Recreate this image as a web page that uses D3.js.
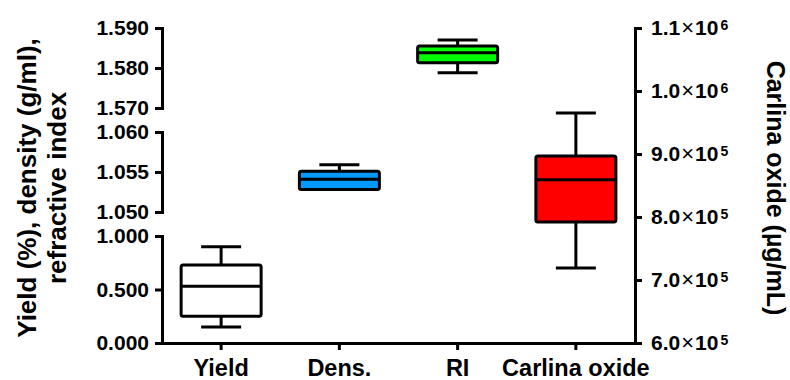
<!DOCTYPE html>
<html lang="en">
  <head>
    <meta charset="utf-8">
    <title>Carlina oil box plot</title>
    <script type="text/javascript" src="https://cdn.jsdelivr.net/npm/d3@7"></script>
    <style type="text/css">
      body { margin: 0; background: #fff; }
      svg { font-family: "Liberation Sans", Arial, sans-serif; }
      .axis path, .axis line { stroke: #000; stroke-width: 3px; }
      .axis text { font-size: 21px; font-weight: bold; fill: #000; }
    </style>
  </head>
  <body>
    <script type="text/javascript">

      //Categories and box values [min, q1, median, q3, max]
      var categories = ["Yield", "Dens.", "RI", "Carlina oxide"];
      var yieldBox = [0.15, 0.25, 0.53, 0.73, 0.90];
      var densBox = [1.0528, 1.0528, 1.0541, 1.0551, 1.0559];
      var riBox = [1.5788, 1.5813, 1.5838, 1.5855, 1.5870];
      var carlinaBox = [719000, 792000, 859000, 897000, 965000];
      var colors = ["#ffffff", "#0099ff", "#00ff00", "#ff0000"];

      //Tick values
      var riTicks = [1.570, 1.580, 1.590];
      var densTicks = [1.050, 1.055, 1.060];
      var yieldTicks = [0, 0.5, 1.0];
      var rightTicks = [600000, 700000, 800000, 900000, 1000000, 1100000];

      var w = 790;
      var h = 380;
      var padL = 162, padR = 635, padT = 28, padB = 343;

      var svg = d3.select("body")
            .append("svg")
            .attr("width", w)
            .attr("height", h);

      var xScale = d3.scaleBand()
              .domain(categories)
              .range([padL, padR]);

      //three pieces of the broken left axis
      var yRI = d3.scaleLinear().domain([1.570, 1.590]).range([108, padT]);
      var yDens = d3.scaleLinear().domain([1.050, 1.060]).range([212, 132]);
      var yYield = d3.scaleLinear().domain([0, 1]).range([padB, 236]);
      var yRight = d3.scaleLinear().domain([600000, 1100000]).range([padB, padT]);

      var fmt = d3.format(".3f");

      function leftAxis(scale, ticks) {
        svg.append("g")
           .attr("class", "axis")
           .attr("transform", "translate(" + padL + ",0)")
           .call(d3.axisLeft(scale).tickValues(ticks).tickFormat(fmt)
                 .tickSize(7).tickSizeOuter(0).tickPadding(6))
           .select(".domain").attr("stroke-linecap", "square");
      }
      leftAxis(yRI, riTicks);
      leftAxis(yDens, densTicks);
      leftAxis(yYield, yieldTicks);

      //bottom axis
      var xAxis = svg.append("g")
           .attr("class", "axis")
           .attr("transform", "translate(0," + padB + ")")
           .call(d3.axisBottom(xScale).tickSize(7).tickSizeOuter(0).tickPadding(9));
      xAxis.selectAll("text").style("font-size", "23.5px");
      xAxis.select(".domain").attr("stroke-linecap", "square");

      //right axis
      var rAxis = svg.append("g")
           .attr("class", "axis")
           .attr("transform", "translate(" + padR + ",0)")
           .call(d3.axisRight(yRight).tickValues(rightTicks).tickSize(7).tickSizeOuter(0).tickPadding(9)
                 .tickFormat(""));
      rAxis.select(".domain").attr("stroke-linecap", "square");
      rAxis.selectAll(".tick text").each(function(d) {
        var e = Math.floor(Math.log10(d) + 1e-9);
        var m = (d / Math.pow(10, e)).toFixed(1);
        var t = d3.select(this);
        t.append("tspan").text(m);
        t.append("tspan").text("\u00d7").attr("dx", 1).style("font-weight", "normal").style("font-size", "22px");
        t.append("tspan").text("10").attr("dx", 1);
        t.append("tspan").text(e).attr("dx", 2).attr("dy", "-5").style("font-size", "14px");
      });

      //boxes
      var boxes = [
        { name: "Yield", v: yieldBox, y: yYield },
        { name: "Dens.", v: densBox, y: yDens },
        { name: "RI", v: riBox, y: yRI },
        { name: "Carlina oxide", v: carlinaBox, y: yRight }
      ];

      var bw = 80;
      var g = svg.selectAll("g.box")
         .data(boxes)
         .enter()
         .append("g")
         .attr("class", "box")
         .attr("transform", function(d) {
            return "translate(" + (xScale(d.name) + xScale.bandwidth() / 2) + ",0)";
         })
         .attr("stroke", "#000")
         .attr("stroke-width", 3);

      //whiskers
      g.append("line")
         .attr("x1", 0).attr("x2", 0)
         .attr("y1", function(d) { return d.y(d.v[0]); })
         .attr("y2", function(d) { return d.y(d.v[4]); });
      g.selectAll("line.cap")
         .data(function(d) { return [d.y(d.v[0]), d.y(d.v[4])]; })
         .enter()
         .append("line")
         .attr("class", "cap")
         .attr("x1", -bw / 4).attr("x2", bw / 4)
         .attr("y1", function(d) { return d; })
         .attr("y2", function(d) { return d; });

      g.append("rect")
         .attr("x", -bw / 2)
         .attr("width", bw)
         .attr("y", function(d) { return d.y(d.v[3]); })
         .attr("height", function(d) { return d.y(d.v[1]) - d.y(d.v[3]); })
         .attr("rx", 2)
         .attr("fill", function(d, i) { return colors[i]; });

      g.append("line")
         .attr("x1", -bw / 2).attr("x2", bw / 2)
         .attr("y1", function(d) { return d.y(d.v[2]); })
         .attr("y2", function(d) { return d.y(d.v[2]); });

      //axis titles
      var lt = svg.append("text")
         .attr("transform", "translate(36,188) rotate(-90)")
         .attr("text-anchor", "middle")
         .style("font-size", "26px")
         .style("font-weight", "bold");
      lt.append("tspan").attr("x", 0).attr("dy", 0).text("Yield (%), density (g/ml),");
      lt.append("tspan").attr("x", 0).attr("dy", 30).text("refractive index");

      svg.append("text")
         .attr("transform", "translate(767,188) rotate(90)")
         .attr("text-anchor", "middle")
         .style("font-size", "25px")
         .style("font-weight", "bold")
         .text("Carlina oxide (\u00b5g/mL)");

    </script>
  </body>
</html>
